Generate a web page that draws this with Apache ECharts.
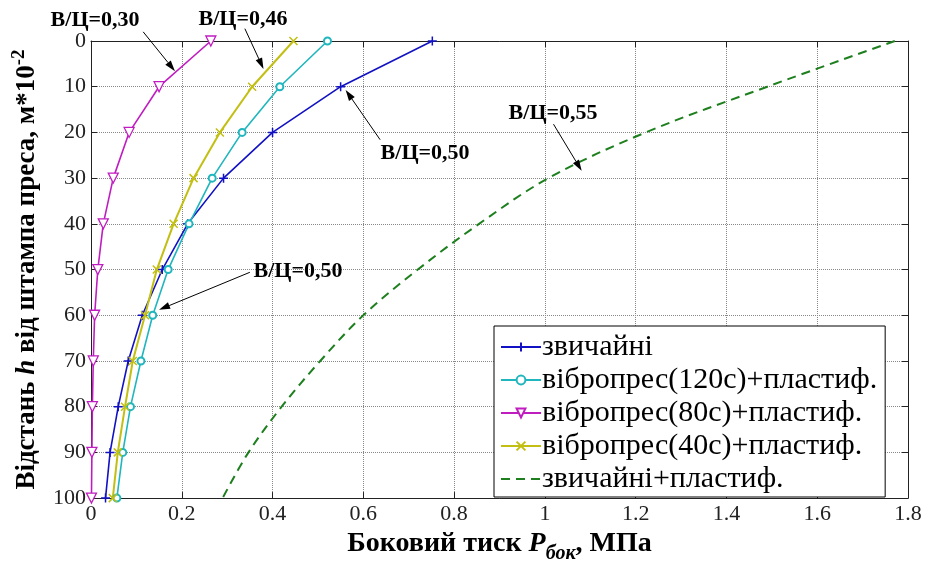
<!DOCTYPE html>
<html>
<head>
<meta charset="utf-8">
<title>Боковий тиск</title>
<style>
html,body{margin:0;padding:0;background:#fff;}
#chart{width:926px;height:569px;}
</style>
</head>
<body>
<div id="chart"></div>
<script src="https://cdn.jsdelivr.net/npm/echarts@6/dist/echarts.min.js"></script>
<script type="text/javascript">
// відстань від штампа, м*10^-2
var depth = [0, 10, 20, 30, 40, 50, 60, 70, 80, 90, 100];
// боковий тиск, МПа
var plain      = [0.752, 0.550, 0.400, 0.292, 0.213, 0.157, 0.113, 0.082, 0.060, 0.042, 0.032];
var vibro120   = [0.521, 0.416, 0.333, 0.267, 0.216, 0.170, 0.136, 0.110, 0.087, 0.070, 0.057];
var vibro80    = [0.264, 0.150, 0.084, 0.049, 0.027, 0.015, 0.008, 0.005, 0.003, 0.002, 0.001];
var vibro40    = [0.446, 0.355, 0.284, 0.226, 0.182, 0.145, 0.119, 0.092, 0.075, 0.059, 0.048];
var plainPlast = [1.771, 1.490, 1.222, 1.008, 0.855, 0.720, 0.600, 0.505, 0.420, 0.347, 0.290];
var names = ['звичайні', 'вібропрес(120с)+пластиф.', 'вібропрес(80с)+пластиф.', 'вібропрес(40с)+пластиф.', 'звичайні+пластиф.'];
var xTicks = [0, 0.2, 0.4, 0.6, 0.8, 1, 1.2, 1.4, 1.6, 1.8];
var yTicks = [0, 10, 20, 30, 40, 50, 60, 70, 80, 90, 100];

// підписи В/Ц зі стрілками (в одиницях осей)
var notes = [
  {text: 'В/Ц=0,30', at: [0.009, -4.5], from: [0.115, -2.0], to: [0.185, 6.6]},
  {text: 'В/Ц=0,46', at: [0.335, -4.7], from: [0.339, -2.7], to: [0.380, 6.1]},
  {text: 'В/Ц=0,50', at: [0.736, 24.6], from: [0.637, 21.6], to: [0.561, 10.7]},
  {text: 'В/Ц=0,55', at: [1.018, 15.9], from: [1.019, 18.2], to: [1.081, 28.4]},
  {text: 'В/Ц=0,50', at: [0.456, 50.4], from: [0.350, 50.6], to: [0.150, 58.8]}
];

var serif = 'Liberation Serif';

function pairs(vals) {
  return depth.map(function (d, i) { return [vals[i], d]; });
}

function lineSeries(name, vals, color, symbol, size, extra) {
  var s = {
    name: name,
    type: 'line',
    data: pairs(vals),
    symbol: symbol,
    symbolSize: size,
    showSymbol: true,
    lineStyle: {color: color, width: 1.6},
    itemStyle: {color: color, borderColor: color, borderWidth: 1.3},
    emphasis: {disabled: true},
    z: 3
  };
  for (var k in extra) s[k] = extra[k];
  return s;
}

var chart = echarts.init(document.getElementById('chart'));

var tickRich = {t: {fontFamily: serif, fontSize: 22, color: '#222'}};
var xFmt = function (v) { return '{t|' + (Math.round(v * 10) / 10) + '}'; };
var yFmt = function (v) { return '{t|' + v + '}'; };

var option = {
  animation: false,
  backgroundColor: '#fff',
  textStyle: {fontFamily: serif},
  grid: {left: 91, right: 18, top: 41, bottom: 62},
  legend: {
    orient: 'vertical',
    left: 494,
    top: 326,
    padding: [6, 8, 3, 6],
    itemGap: 3,
    itemWidth: 40,
    itemHeight: 11,
    backgroundColor: '#fff',
    borderColor: '#000',
    borderWidth: 1,
    borderRadius: 0,
    formatter: function (name) { return '{l|' + name + '}'; },
    textStyle: {
      rich: {l: {fontFamily: serif, fontSize: 30, color: '#000', lineHeight: 26, padding: [0, 0, 0, -4]}}
    },
    data: [names[0], names[1], names[2], names[3], {name: names[4], itemStyle: {opacity: 0}}]
  },
  xAxis: [{
    type: 'value',
    position: 'bottom',
    min: xTicks[0],
    max: xTicks[xTicks.length - 1],
    interval: 0.2,
    axisLine: {show: true, onZero: false, lineStyle: {color: '#222', width: 1}},
    axisTick: {show: true, inside: true, length: 6, lineStyle: {color: '#222'}},
    axisLabel: {margin: 5, formatter: xFmt, rich: tickRich},
    splitLine: {show: true, lineStyle: {type: 'dotted', color: '#888', width: 1}},
    name: '{b|Боковий тиск }{i|P}{s|бок}{b|, МПа}',
    nameLocation: 'middle',
    nameGap: 28,
    nameTextStyle: {
      rich: {
        b: {fontFamily: serif, fontWeight: 'bold', fontSize: 28, lineHeight: 27, color: '#000', verticalAlign: 'top'},
        i: {fontFamily: serif, fontWeight: 'bold', fontStyle: 'italic', fontSize: 28, lineHeight: 27, color: '#000', verticalAlign: 'top'},
        s: {fontFamily: serif, fontWeight: 'bold', fontStyle: 'italic', fontSize: 20, lineHeight: 19, color: '#000', verticalAlign: 'top', padding: [14, 0, 0, 0]}
      }
    }
  }, {
    type: 'value',
    position: 'top',
    min: xTicks[0],
    max: xTicks[xTicks.length - 1],
    interval: 0.2,
    axisLine: {show: true, onZero: false, lineStyle: {color: '#222', width: 1}},
    axisTick: {show: true, inside: true, length: 6, lineStyle: {color: '#222'}},
    axisLabel: {show: false},
    splitLine: {show: false}
  }],
  yAxis: [{
    type: 'value',
    position: 'left',
    inverse: true,
    min: yTicks[0],
    max: yTicks[yTicks.length - 1],
    interval: 10,
    axisLine: {show: true, onZero: false, lineStyle: {color: '#222', width: 1}},
    axisTick: {show: true, inside: true, length: 6, lineStyle: {color: '#222'}},
    axisLabel: {margin: 5, formatter: yFmt, rich: tickRich},
    splitLine: {show: true, lineStyle: {type: 'dotted', color: '#888', width: 1}},
    name: '{b|Відстань }{i|h}{b| від штампа преса, м*10}{p|-2}',
    nameLocation: 'middle',
    nameGap: 50,
    nameRotate: 90,
    nameTextStyle: {
      rich: {
        b: {fontFamily: serif, fontWeight: 'bold', fontSize: 27, lineHeight: 26, color: '#000', verticalAlign: 'bottom'},
        i: {fontFamily: serif, fontWeight: 'bold', fontStyle: 'italic', fontSize: 27, lineHeight: 26, color: '#000', verticalAlign: 'bottom'},
        p: {fontFamily: serif, fontWeight: 'bold', fontSize: 19, lineHeight: 18, color: '#000', verticalAlign: 'bottom', padding: [0, 0, 12, 0]}
      }
    }
  }, {
    type: 'value',
    position: 'right',
    inverse: true,
    min: yTicks[0],
    max: yTicks[yTicks.length - 1],
    interval: 10,
    axisLine: {show: true, onZero: false, lineStyle: {color: '#222', width: 1}},
    axisTick: {show: true, inside: true, length: 6, lineStyle: {color: '#222'}},
    axisLabel: {show: false},
    splitLine: {show: false}
  }],
  series: [
    lineSeries(names[0], plain, '#1212c4', 'path://M5,0 L5,10 M0,5 L10,5', 9,
      {itemStyle: {color: 'none', borderColor: '#1212c4', borderWidth: 1.5}}),
    lineSeries(names[1], vibro120, '#1fb6bd', 'emptyCircle', 7,
      {itemStyle: {color: '#1fb6bd', borderColor: '#1fb6bd', borderWidth: 1.3}}),
    lineSeries(names[2], vibro80, '#c01dc0', 'path://M0,0 L10,0 L5,9 Z', 10,
      {itemStyle: {color: '#fff', borderColor: '#c01dc0', borderWidth: 1.3}}),
    lineSeries(names[3], vibro40, '#c2bf12', 'path://M0,0 L10,10 M10,0 L0,10', 8,
      {lineStyle: {color: '#c2bf12', width: 2}, itemStyle: {color: 'none', borderColor: '#c2bf12', borderWidth: 1.5}}),
    lineSeries(names[4], plainPlast, '#1d7f1d', 'none', 0,
      {smooth: 0.35, showSymbol: false, lineStyle: {color: '#1d7f1d', width: 2, type: [9, 6]}, itemStyle: {color: '#1d7f1d'}})
  ]
};

chart.setOption(option);

// стрілки та підписи
function arrow(p0, p1) {
  var dx = p1[0] - p0[0], dy = p1[1] - p0[1];
  var len = Math.sqrt(dx * dx + dy * dy);
  var ux = dx / len, uy = dy / len;
  var hl = 11, hw = 3.5;
  var bx = p1[0] - ux * hl, by = p1[1] - uy * hl;
  return [
    {type: 'line', shape: {x1: p0[0], y1: p0[1], x2: bx, y2: by}, style: {stroke: '#000', lineWidth: 1}, z: 10},
    {type: 'polygon', shape: {points: [[p1[0], p1[1]], [bx - uy * hw, by + ux * hw], [bx + uy * hw, by - ux * hw]]}, style: {fill: '#000'}, z: 10}
  ];
}

var gfx = [];
notes.forEach(function (n) {
  var c = chart.convertToPixel({xAxisIndex: 0, yAxisIndex: 0}, n.at);
  var a = chart.convertToPixel({xAxisIndex: 0, yAxisIndex: 0}, n.from);
  var b = chart.convertToPixel({xAxisIndex: 0, yAxisIndex: 0}, n.to);
  gfx.push({
    type: 'text', x: c[0], y: c[1], z: 10,
    style: {text: n.text, font: 'bold 22px "' + serif + '"', fill: '#000', align: 'center', verticalAlign: 'middle'}
  });
  gfx = gfx.concat(arrow(a, b));
});
chart.setOption({graphic: gfx});
</script>
</body>
</html>
